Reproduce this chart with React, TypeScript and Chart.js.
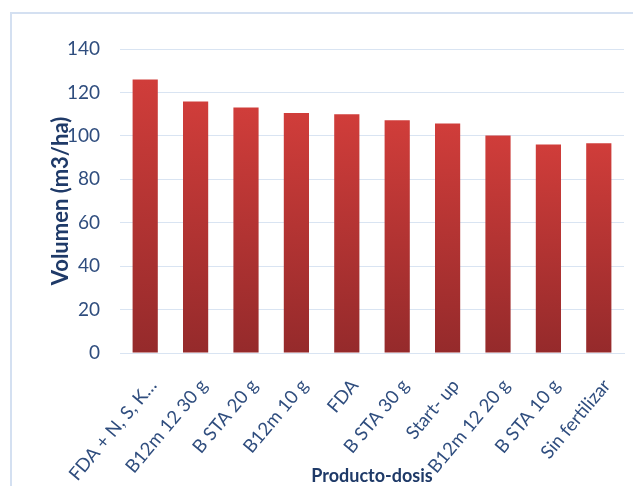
import React, { useEffect, useRef } from "react";
import { Chart, registerables } from "chart.js";

Chart.register(...registerables);

const categories = [
  "FDA + N, S, K…",
  "B12m 12 30 g",
  "B STA 20 g",
  "B12m 10 g",
  "FDA",
  "B STA 30 g",
  "Start- up",
  "B12m 12 20 g",
  "B STA 10 g",
  "Sin fertilizar",
];
const volumen = [126, 115.8, 113.1, 110.5, 109.9, 107.2, 105.7, 100.2, 96.0, 96.6];
const yTicks = [0, 20, 40, 60, 80, 100, 120, 140];
const yTitle = "Volumen (m3/ha)";
const xTitle = "Producto-dosis";

const FONT = "Lato, 'Liberation Sans', sans-serif";
const TICK_COLOR = "#2f4d7e";
const TITLE_COLOR = "#1f3a68";
const GRID_COLOR = "#d9e4f2";

export default function App() {
  const ref = useRef<HTMLCanvasElement | null>(null);
  useEffect(() => {
    if (!ref.current) return;
    const chart = new Chart(ref.current, {
      type: "bar",
      data: {
        labels: categories,
        datasets: [
          {
            label: yTitle,
            data: volumen,
            backgroundColor: (ctx: any) => {
              const c = ctx.chart;
              const y = c.scales?.y;
              if (!y || ctx.parsed == null) return "#c0392f";
              const top = y.getPixelForValue(ctx.parsed.y);
              const bottom = y.getPixelForValue(0);
              if (!isFinite(top) || !isFinite(bottom) || top === bottom) return "#c0392f";
              const g = c.ctx.createLinearGradient(0, top, 0, bottom);
              g.addColorStop(0, "#d03d3a");
              g.addColorStop(1, "#952a2b");
              return g;
            },
            borderWidth: 0,
            categoryPercentage: 1,
            barPercentage: 0.5,
          },
        ],
      },
      options: {
        animation: false,
        responsive: true,
        maintainAspectRatio: false,
        layout: { padding: { top: 41, left: 34, right: 17, bottom: 0 } },
        plugins: { legend: { display: false }, tooltip: { enabled: false } },
        scales: {
          x: {
            grid: { display: false },
            border: { display: true, color: GRID_COLOR, width: 1 },
            afterFit: (s: any) => {
              s.paddingLeft = 0;
              s.paddingRight = 0;
              s.height = 133;
            },
            ticks: {
              color: TICK_COLOR,
              font: { family: FONT, size: 18.5 },
              minRotation: 50,
              maxRotation: 50,
              autoSkip: false,
              padding: 14,
              labelOffset: 8,
            },
            title: {
              display: true,
              text: xTitle,
              color: TITLE_COLOR,
              font: { family: FONT, size: 18, weight: "bold" },
              padding: { top: 0, bottom: -1 },
            },
          },
          y: {
            min: 0,
            max: 140,
            afterBuildTicks: (s: any) => {
              s.ticks = yTicks.map((v) => ({ value: v }));
            },
            afterFit: (s: any) => {
              s.width = 78;
            },
            grid: { color: GRID_COLOR, lineWidth: 1, drawTicks: false },
            border: { display: false },
            ticks: {
              color: TICK_COLOR,
              font: { family: FONT, size: 19 },
              padding: 20,
            },
            title: {
              display: true,
              text: yTitle,
              color: TITLE_COLOR,
              font: { family: FONT, size: 22, weight: "bold" },
              padding: { top: 6, bottom: 0 },
            },
          },
        },
      },
    });
    return () => chart.destroy();
  }, []);

  return (
    <div style={{ position: "relative", width: 633, height: 478, overflow: "hidden" }}>
      <div
        style={{
          position: "absolute",
          left: 2,
          top: 4,
          width: 800,
          height: 800,
          border: "2px solid #d4e0f1",
        }}
      />
      <div style={{ position: "absolute", left: 0, top: 0, width: 633, height: 478 }}>
        <canvas ref={ref} />
      </div>
    </div>
  );
}
